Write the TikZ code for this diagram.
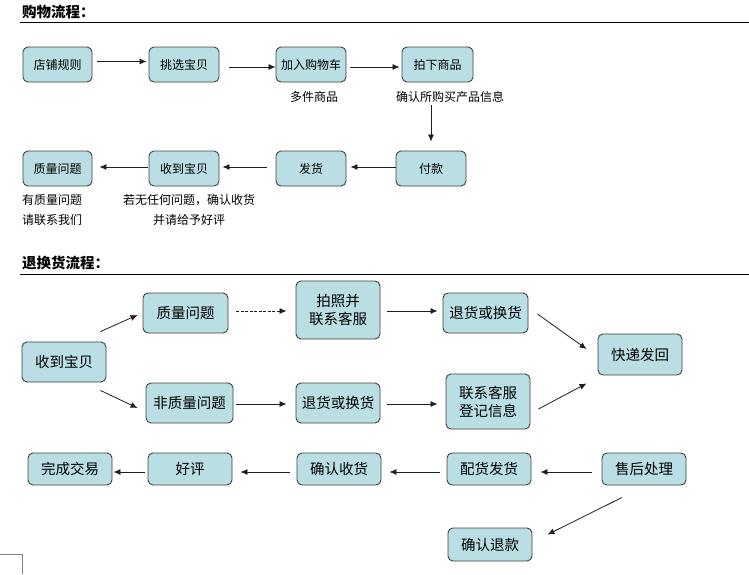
\documentclass[tikz,border=0pt]{standalone}
\usepackage{fontspec}
\newfontfamily\cjk{Noto Sans CJK SC}
\usetikzlibrary{arrows.meta,calc}
\definecolor{boxfill}{RGB}{185,222,227}
\definecolor{boxline}{RGB}{64,64,64}
\definecolor{arrowline}{RGB}{30,30,30}
\tikzset{
  pbox/.style={draw=boxline,fill=boxfill,rounded corners=5pt,line width=0.9pt,inner sep=0pt,align=center,font=\cjk\fontsize{12}{14}\selectfont},
  qbox/.style={pbox,font=\cjk\fontsize{14.5}{18}\selectfont},
  conn/.style={draw=arrowline,line width=0.8pt,-{Latex[length=7pt,width=6pt]}},
  dconn/.style={conn,dash pattern=on 3pt off 1.5pt},
  lbl/.style={inner sep=0pt,font=\cjk\fontsize{12}{20}\selectfont},
  ttl/.style={inner sep=0pt,anchor=west,font=\cjk\bfseries\fontsize{14.5}{16}\selectfont},
}
\begin{document}
\begin{tikzpicture}[x=1pt,y=-1pt]
\useasboundingbox (0,0) rectangle (749,574);
% ---- section 1
\node[ttl] (t1) at (22,12) {购物流程：};
\coordinate (l1a) at (20,22); \coordinate (l1b) at (749,22);
\draw[line width=0.9pt] (l1a) -- (l1b);
\node[pbox,minimum width=69pt,minimum height=35pt] (a1) at (57.5,64.5) {店铺规则};
\node[pbox,minimum width=70pt,minimum height=35pt] (a2) at (184,64.5) {挑选宝贝};
\node[pbox,minimum width=70pt,minimum height=35pt] (a3) at (311,64.5) {加入购物车};
\node[pbox,minimum width=71pt,minimum height=35pt] (a4) at (437.5,64.5) {拍下商品};
\node[pbox,minimum width=70pt,minimum height=35pt] (b1) at (431,168.5) {付款};
\node[pbox,minimum width=70pt,minimum height=35pt] (b2) at (311,168.5) {发货};
\node[pbox,minimum width=70pt,minimum height=35pt] (b3) at (184,168.5) {收到宝贝};
\node[pbox,minimum width=69pt,minimum height=35pt] (b4) at (57.5,168.5) {质量问题};
\node[lbl] (n1) at (314,97) {多件商品};
\node[lbl] (n2) at (450,97) {确认所购买产品信息};
\node[lbl,align=left,anchor=west] (n3) at (22,210) {有质量问题\\请联系我们};
\node[lbl,align=center] (n4) at (189,210) {若无任何问题，确认收货\\并请给予好评};
\draw[conn] ([shift={(5,-3)}]a1.east) -- ([shift={(-2,-3)}]a2.west);
\draw[conn] ([shift={(10,2.5)}]a2.east) -- ([shift={(0,2.5)}]a3.west);
\draw[conn] ([shift={(4,2.5)}]a3.east) -- ([shift={(-2,2.5)}]a4.west);
\draw[conn] ($(a4.south -| b1.north)+(0,23)$) -- ($(b1.north)+(0,-9)$);
\draw[conn] ([shift={(0,-1.5)}]b1.west) -- ([shift={(4,-1.5)}]b2.east);
\draw[conn] ([shift={(-9,-1.5)}]b2.west) -- ([shift={(3,-1.5)}]b3.east);
\draw[conn] ([shift={(-1,-1.5)}]b3.west) -- ([shift={(7,-1.5)}]b4.east);
% ---- section 2
\node[ttl] (t2) at (22,263) {退换货流程：};
\coordinate (l2a) at (20,274); \coordinate (l2b) at (749,274);
\draw[line width=0.9pt] (l2a) -- (l2b);
\node[qbox,minimum width=84pt,minimum height=40pt] (c1) at (64,362) {收到宝贝};
\node[qbox,minimum width=85pt,minimum height=40pt] (c2) at (185.5,313) {质量问题};
\node[qbox,minimum width=87pt,minimum height=40pt] (c3) at (189.5,403) {非质量问题};
\node[qbox,minimum width=84pt,minimum height=58pt] (c4) at (338,310) {拍照并\\联系客服};
\node[qbox,minimum width=84pt,minimum height=40pt] (c5) at (338,403) {退货或换货};
\node[qbox,minimum width=85pt,minimum height=40pt] (c6) at (485.5,313) {退货或换货};
\node[qbox,minimum width=84pt,minimum height=55pt] (c7) at (488,401.5) {联系客服\\登记信息};
\node[qbox,minimum width=84pt,minimum height=41pt] (c8) at (640,354.5) {快递发回};
\node[qbox,minimum width=84pt,minimum height=32pt] (d1) at (644,469) {售后处理};
\node[qbox,minimum width=84pt,minimum height=32pt] (d2) at (489,469) {配货发货};
\node[qbox,minimum width=84pt,minimum height=32pt] (d3) at (339,469) {确认收货};
\node[qbox,minimum width=84pt,minimum height=32pt] (d4) at (190,469) {好评};
\node[qbox,minimum width=84pt,minimum height=32pt] (d5) at (70,469) {完成交易};
\node[qbox,minimum width=84pt,minimum height=33pt] (d6) at (490,544.5) {确认退款};
\draw[conn] ([shift={(-6,-10)}]c1.north east) -- ([shift={(-5,2)}]c2.west);
\draw[conn] ([shift={(-6,8)}]c1.south east) -- ([shift={(-8,5)}]c3.west);
\draw[dconn] ([shift={(8,-2)}]c2.east) -- ([shift={(-9,1)}]c4.west);
\draw[conn] ([shift={(3,1)}]c3.east) -- ([shift={(-9,1)}]c5.west);
\draw[conn] ([shift={(7,1)}]c4.east) -- ([shift={(-5,-2)}]c6.west);
\draw[conn] ([shift={(7,1)}]c5.east) -- ([shift={(-8,2.5)}]c7.west);
\draw[conn] ([shift={(9,1)}]c6.east) -- ([shift={(-11,-5.5)}]c8.west);
\draw[conn] ([shift={(8,7.5)}]c7.east) -- ([shift={(-11,8)}]c8.south west);
\draw[conn] ([shift={(-10,3)}]d1.west) -- ([shift={(9,3)}]d2.east);
\draw[conn] ([shift={(-7,3)}]d2.west) -- ([shift={(8,3)}]d3.east);
\draw[conn] ([shift={(-7,3)}]d3.west) -- ([shift={(8,3)}]d4.east);
\draw[conn] ([shift={(-3,3)}]d4.west) -- ([shift={(1,3)}]d5.east);
\draw[conn] ([shift={(-22,12)}]d1.south) -- ([shift={(15,7)}]d6.north east);
% corner mark bottom left
\coordinate (m1) at (0,554); \coordinate (m2) at (22,554); \coordinate (m3) at (22,574);
\draw[gray,line width=0.6pt] (m1) -- (m2) -- (m3);
\end{tikzpicture}
\end{document}
